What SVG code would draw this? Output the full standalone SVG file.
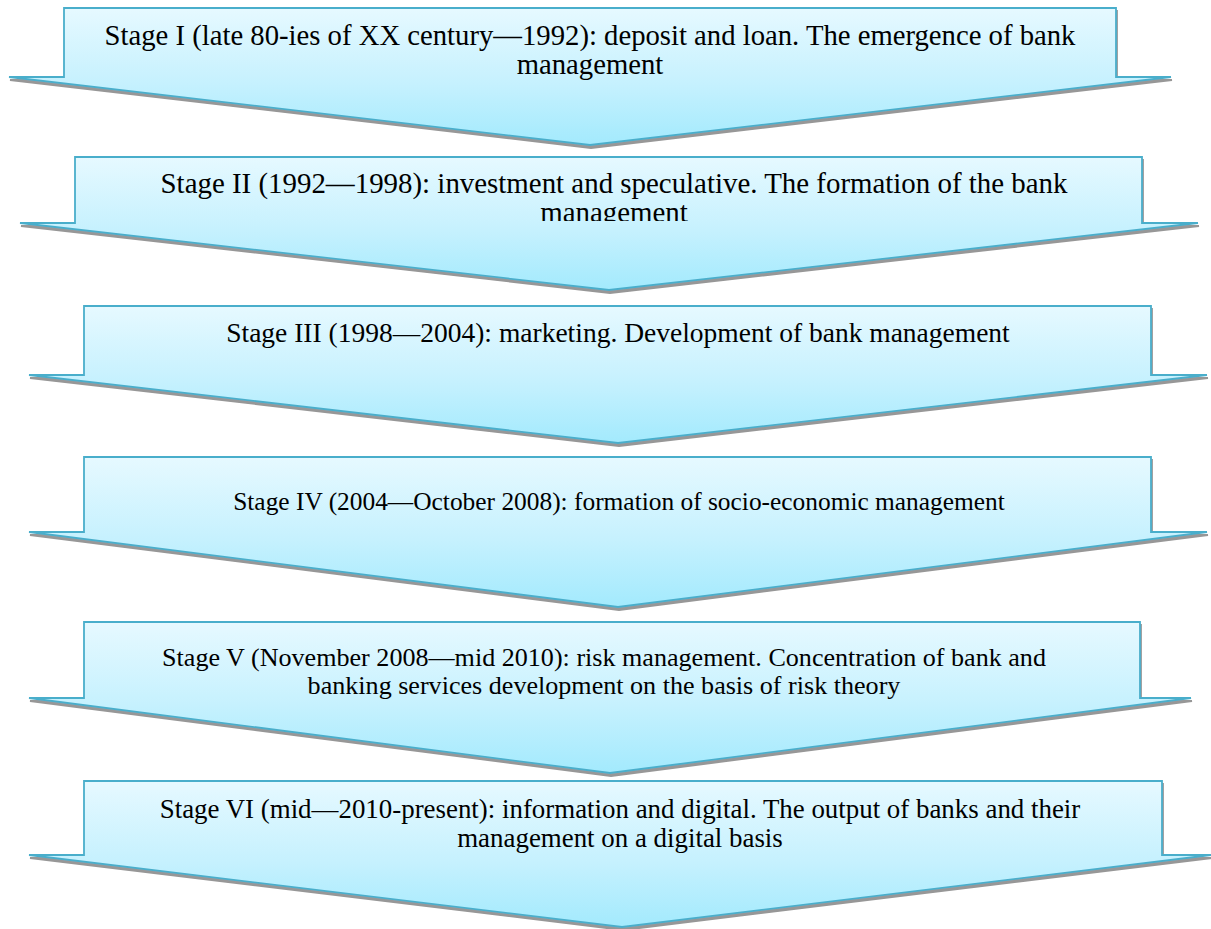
<svg xmlns="http://www.w3.org/2000/svg" width="1211" height="929" viewBox="0 0 1211 929">
  <defs>
    <linearGradient id="fillGrad" x1="0" y1="0" x2="0" y2="1">
      <stop offset="0" stop-color="#e6f9ff"/>
      <stop offset="0.55" stop-color="#c6f1fe"/>
      <stop offset="1" stop-color="#a3eafd"/>
    </linearGradient>
    <filter id="shadow" x="-5%" y="-5%" width="110%" height="120%">
      <feDropShadow dx="1" dy="3" stdDeviation="0.6" flood-color="#8c8c8c" flood-opacity="0.9"/>
    </filter>
    <clipPath id="clipStage2">
      <rect x="0" y="150" width="1211" height="71"/>
    </clipPath>
  </defs>
  <style>
    .stage { fill: url(#fillGrad); stroke: #4aaecb; stroke-width: 1.8; filter: url(#shadow); }
    .label { font-family: "Liberation Serif", "Times New Roman", serif; font-size: 28px; fill: #000; text-anchor: middle; }
    #stage1 .label { font-size: 28.7px; }
    #stage2 .label { font-size: 28.9px; }
    #stage3 .label { font-size: 27.5px; }
    #stage4 .label { font-size: 25.4px; }
    #stage5 .label { font-size: 26.1px; }
    #stage6 .label { font-size: 26.9px; }
  </style>

  <g id="stage1">
    <path class="stage" d="M64,8 H1116 V77 H1171 L590,145 L9,77 H64 Z"/>
    <text class="label" x="590" y="45">Stage I (late 80-ies of XX century—1992): deposit and loan. The emergence of bank</text>
    <text class="label" x="590" y="74">management</text>
  </g>

  <g id="stage2">
    <path class="stage" d="M75,157 H1142 V223 H1198 L609,290 L20,223 H75 Z"/>
    <text class="label" x="614" y="193">Stage II (1992—1998): investment and speculative. The formation of the bank</text>
    <text class="label" x="614" y="222" clip-path="url(#clipStage2)">management</text>
  </g>

  <g id="stage3">
    <path class="stage" d="M84,306 H1151 V375 H1207 L618,443 L29,375 H84 Z"/>
    <text class="label" x="618" y="342">Stage III (1998—2004): marketing. Development of bank management</text>
  </g>

  <g id="stage4">
    <path class="stage" d="M84,457 H1151 V532 H1207 L618,607 L29,532 H84 Z"/>
    <text class="label" x="619" y="510">Stage IV (2004—October 2008): formation of socio-economic management</text>
  </g>

  <g id="stage5">
    <path class="stage" d="M84,622 H1140 V698 H1191 L610,773 L29,698 H84 Z"/>
    <text class="label" x="604" y="666">Stage V (November 2008—mid 2010): risk management. Concentration of bank and</text>
    <text class="label" x="604" y="694">banking services development on the basis of risk theory</text>
  </g>

  <g id="stage6">
    <path class="stage" d="M84,781 H1162 V855 H1211 L622,927 L29,855 H84 Z"/>
    <text class="label" x="620" y="818">Stage VI (mid—2010-present): information and digital. The output of banks and their</text>
    <text class="label" x="620" y="847">management on a digital basis</text>
  </g>

  <g id="connectors"/>
</svg>
